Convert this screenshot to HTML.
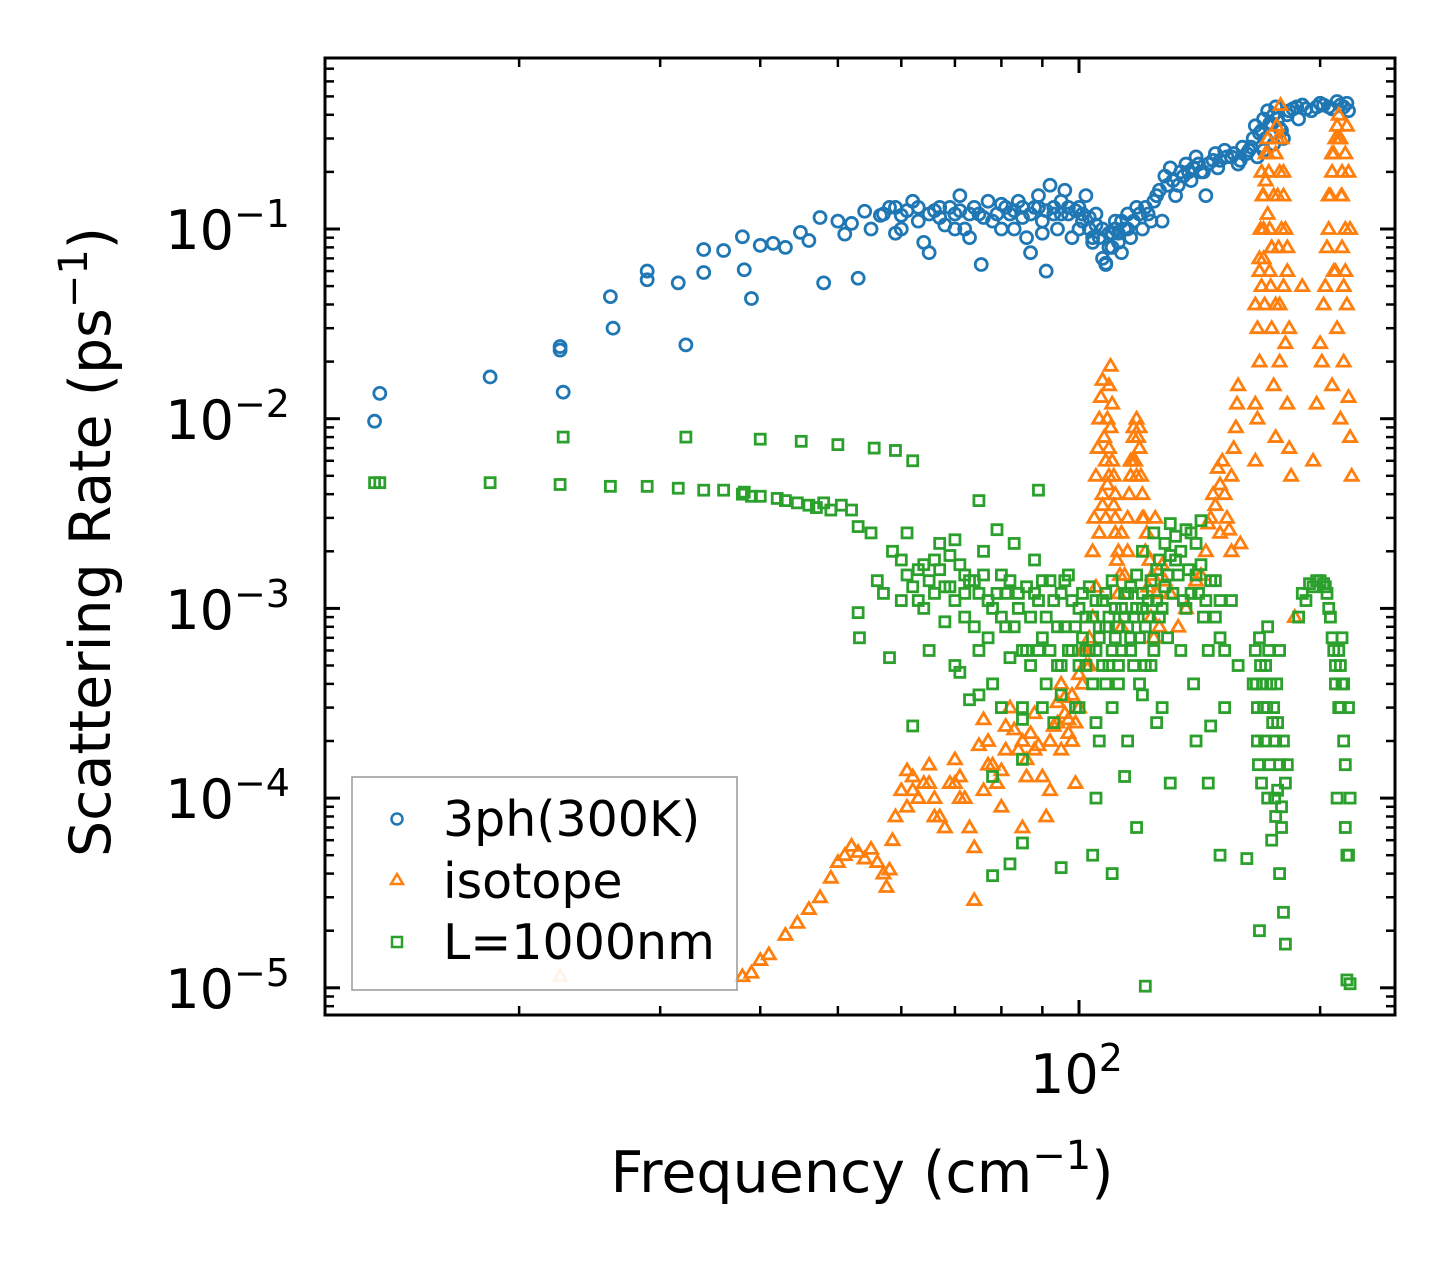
<!DOCTYPE html>
<html><head><meta charset="utf-8"><style>
body{margin:0;background:#fff;}
svg text{font-family:"DejaVu Sans","Liberation Sans",sans-serif;fill:#000;}
</style></head><body>
<svg id="chart" width="1455" height="1265" viewBox="0 0 1455 1265" xmlns="http://www.w3.org/2000/svg">
<rect width="1455" height="1265" fill="#fff"/>
<defs><clipPath id="pc"><rect x="325" y="58" width="1070" height="957"/></clipPath></defs>
<g id="marks" clip-path="url(#pc)"></g>
<g id="axes"></g>
<rect x="325" y="58" width="1070" height="957" fill="none" stroke="#000" stroke-width="3"/>
<g font-size="54" text-anchor="end">
<text x="290" y="249">10<tspan dy="-22" font-size="38">−1</tspan></text>
<text x="290" y="439">10<tspan dy="-22" font-size="38">−2</tspan></text>
<text x="290" y="629">10<tspan dy="-22" font-size="38">−3</tspan></text>
<text x="290" y="818">10<tspan dy="-22" font-size="38">−4</tspan></text>
<text x="290" y="1008">10<tspan dy="-22" font-size="38">−5</tspan></text>
</g>
<text x="1030" y="1093" font-size="54">10<tspan dy="-22" font-size="38">2</tspan></text>
<text x="862" y="1192" font-size="57" text-anchor="middle">Frequency (cm<tspan dy="-23" font-size="40">−1</tspan><tspan dy="23">)</tspan></text>
<text transform="translate(110,542) rotate(-90)" font-size="57" text-anchor="middle">Scattering Rate (ps<tspan dy="-23" font-size="40">−1</tspan><tspan dy="23">)</tspan></text>
<g>
<rect x="352" y="777" width="385" height="213" fill="#fff" fill-opacity="0.8" stroke="#999" stroke-width="1.5"/>
<circle cx="397" cy="819" r="5.5" fill="none" stroke="#1f77b4" stroke-width="2.5"/>
<text x="443" y="836" font-size="49">3ph(300K)</text>
<path d="M397,874 L403,884 L391,884 Z" fill="none" stroke="#ff7f0e" stroke-width="2.5"/>
<text x="443" y="898" font-size="49">isotope</text>
<rect x="392" y="937" width="10" height="10" fill="none" stroke="#2ca02c" stroke-width="2.5"/>
<text x="443" y="959" font-size="49">L=1000nm</text>
</g>
</svg>
<script>
const blueF=[13.2,13.4,18.4,22.5,22.5,22.7,26,26.2,28.9,28.9,31.6,32.3,34,34,36,38,38.2,39,40,41.5,43,44.9,46,47.5,48,50,51,52,53,54,55,56.5,58,59,60,62,63,64,65,66,67,68,70,71,72,73,74,75,75.5,77,78,80,82,83,84,85,86,87,88,89,90,91,92,93,94,95,96,97,98,100,101,102,103,104,105,106,107,108,109,110,111,112,113,114,115,116,118,120,122,124,126,127,128,130,132,134,136,138,140,142,144,145,148,150,152,155,158,160,163,165,166,167,168,170,172,174,176,178,180,182,185,188,190,195,200,205,210,214,217,170,175,108];
const blueR=[.0097,.0136,.0166,.024,.023,.0138,.044,.030,.060,.054,.052,.0245,.078,.059,.077,.091,.061,.043,.082,.084,.080,.096,.087,.115,.052,.110,.094,.107,.055,.124,.100,.118,.130,.095,.118,.14,.11,.085,.075,.125,.13,.105,.12,.15,.10,.09,.13,.12,.065,.14,.11,.135,.12,.10,.14,.115,.09,.075,.13,.15,.11,.06,.17,.12,.10,.14,.16,.12,.09,.13,.11,.15,.10,.085,.12,.09,.07,.065,.08,.095,.11,.085,.075,.10,.12,.09,.13,.10,.12,.14,.16,.11,.19,.21,.15,.20,.22,.18,.24,.20,.15,.22,.25,.23,.26,.24,.22,.27,.26,.30,.35,.24,.32,.38,.42,.36,.44,.34,.30,.40,.43,.38,.45,.42,.46,.44,.47,.44,.42,.26,.28,.066];
const blueF2=[57,59,61,63,65,67,69,71,73,76,79,81,83,85,87,89,91,93,95,97,99,101,103,105,107,109,111,113,115,117,119,121,123,125,129,131,133,135,137,139,141,143,147,149,153,156,159,162,164,169,171,173,175,177,179,183,187,192,198,202,207,212,216,60,70,80,90,100,104,110,112];
const blueR2=[.12,.13,.125,.13,.12,.115,.13,.125,.12,.115,.12,.13,.125,.13,.12,.13,.125,.13,.12,.13,.125,.12,.115,.105,.10,.095,.10,.11,.10,.11,.12,.13,.11,.15,.17,.18,.17,.19,.2,.21,.22,.2,.23,.21,.24,.25,.23,.25,.27,.33,.30,.36,.4,.38,.33,.42,.44,.43,.44,.45,.43,.45,.46,.10,.10,.10,.095,.10,.09,.08,.095];
const orangeF=[38,39,40,41,43,44.5,46,47.5,49,50,51,52,53,54,55,56,57,57.5,58,58.5,59,60,61,62,63,64,65,66,67,68,69,70,71,72,73,74,74,75,76,77,78,79,80,81,82,83,84,85,86,87,88,89,90,91,92,93,94,95,96,97,98,99,100,101,102,103,104,105,106,107,108,108.5,109,109.5,110,110.5,111,112,112,113,114,115,116,117,118,119,120,121,122,123,124,125,126,127,128,130,133,136,140,145,148,150,151,153,155,157,158,159,167,168,169,170,171,172,173,174,175,176,177,178,179,180,181,182,183,184,178.5,186,190,196,198,200,203,205,207,209,211,213,215,216,217,218,219,212,214,208,107,109,111,118,120,116,150,155,166,168,170,172,174,176,180,182,205,207,209,211,213,215];
const orangeR=[1.15e-5,1.2e-5,1.4e-5,1.5e-5,1.9e-5,2.2e-5,2.6e-5,3.0e-5,3.8e-5,4.6e-5,5.0e-5,5.6e-5,5.2e-5,4.8e-5,5.4e-5,4.6e-5,4.0e-5,3.4e-5,4.2e-5,6e-5,8e-5,1.1e-4,1.4e-4,1.3e-4,1.0e-4,1.2e-4,1.5e-4,1.0e-4,8e-5,7e-5,1.2e-4,1.6e-4,1.3e-4,1.0e-4,7e-5,2.9e-5,5.5e-5,1.9e-4,2.6e-4,2.0e-4,1.5e-4,1.2e-4,9e-5,2.4e-4,3.0e-4,2.3e-4,1.8e-4,7e-5,1.3e-4,2.2e-4,2.8e-4,1.9e-4,1.3e-4,8e-5,1.1e-4,2.4e-4,3.2e-4,4.0e-4,3.4e-4,2.6e-4,2e-4,1.2e-4,4.5e-4,6e-4,5e-4,7e-4,9e-4,1.3e-3,2.5e-3,4e-3,6e-3,1e-2,1.5e-2,1.9e-2,1.2e-2,5e-3,3e-3,2e-3,1.2e-3,8e-4,1.5e-3,3e-3,5e-3,8e-3,1e-2,7e-3,4e-3,2e-3,1.3e-3,9e-4,7e-4,1.2e-3,8e-4,1.7e-3,1.4e-3,1.2e-3,8e-4,1.0e-3,1.4e-3,2.8e-3,3.5e-3,4.5e-3,6e-3,3e-3,2e-3,9e-3,1.5e-2,2.2e-3,0.01,0.02,0.05,0.1,0.18,0.12,0.06,0.03,0.015,0.008,0.3,0.2,0.1,0.05,0.025,0.012,0.007,0.005,0.45,9e-4,0.05,0.006,0.012,0.025,0.05,0.1,0.2,0.3,0.4,0.2,0.1,0.04,0.013,0.008,0.005,0.01,0.02,0.06,3.5e-3,5e-3,4e-3,5e-3,3e-3,6e-3,2.5e-3,5e-3,0.04,0.07,0.15,0.25,0.08,0.04,0.15,0.08,0.15,0.25,0.06,0.3,0.15,0.06];
const orangeF2=[104,104.5,105,105.5,106,106.5,107,107.5,108,108.5,109,109.5,110,110.5,111,111.5,112.5,113,115,115.5,116.5,117,117.5,118.5,119.5,120.5,121.5,122.5,123.5,124.5,119,142,144,146,147,149,152,154,156,157.5,166,166,167,168,168.5,169,169.5,170,170.5,171,172,172.5,173,173.5,174,175,176,176.5,177,177.5,178,178,179,180,181,182,183,201,202,204,206,208,210,212,212.5,213,214,215,216,217,218,210,207,92,94,95,96,97,98,99,100,101,102,103,85,86,88,80,81,76,77,70,71,65,66,62,61];
const orangeR2=[2e-3,3e-3,5e-3,7e-3,1e-2,1.3e-2,1.6e-2,8e-3,3e-3,4.5e-3,7e-3,9e-3,6e-3,3.5e-3,2.5e-3,1.8e-3,1.5e-3,2.5e-3,2e-3,4e-3,6e-3,9e-3,6e-3,8e-3,5e-3,3e-3,2.5e-3,1.8e-3,1.5e-3,3e-3,9e-3,1.5e-3,2e-3,3e-3,4e-3,5.5e-3,4e-3,2.6e-3,7e-3,1.2e-2,0.006,0.012,0.03,0.06,0.1,0.2,0.15,0.07,0.04,0.25,0.3,0.2,0.1,0.05,0.08,0.15,0.25,0.35,0.15,0.08,0.04,0.02,0.3,0.2,0.1,0.06,0.03,0.02,0.04,0.08,0.15,0.25,0.35,0.3,0.15,0.08,0.05,0.25,0.35,0.2,0.1,0.03,0.015,2e-4,2.5e-4,1.8e-4,2.8e-4,2.2e-4,3.5e-4,2.5e-4,3e-4,4e-4,6e-4,5e-4,2e-4,1.6e-4,1.8e-4,1.4e-4,1.8e-4,1.1e-4,1.5e-4,1.2e-4,1.0e-4,1.2e-4,8e-5,1.1e-4,9e-5];
const greenF=[13.2,13.4,18.4,22.5,22.7,26,28.9,31.6,32.3,34,36,38,38.2,39,40,40,42,43,44.5,45,46,47,48,49,50,50.5,52,53,53,53.2,55,55.5,56,57,58,58.5,59,60,61,62,62,63,64,65,66,67,68,69,70,71,72,72,73,74,75,75,76,77,78,78,79,80,81,82,83,84,85,85,86,87,88,89,89,90,91,92,93,94,95,96,97,98,99,100,101,102,103,104,105,106,107,108,109,110,111,112,113,114,115,116,117,118,119,120,121,122,123,124,125,126,127,128,129,130,132,134,136,138,139,140,142,143,145,146,148,150,152,155,158,162,165,167,168,168,169,170,171,172,173,174,175,176,177,178,178,179,180,181,182,188,192,196,200,203,205,207,209,210,211,212,213,214,215,216,216,218,218,121,110,104,95,85,78,82,105,118,130,140,145,150,102,106,112,116,120,124,108,114];
const greenR=[4.6e-3,4.6e-3,4.6e-3,4.5e-3,8e-3,4.4e-3,4.4e-3,4.3e-3,8e-3,4.2e-3,4.2e-3,4.0e-3,4.1e-3,3.9e-3,3.9e-3,7.8e-3,3.8e-3,3.7e-3,3.6e-3,7.6e-3,3.5e-3,3.4e-3,3.6e-3,3.3e-3,7.3e-3,3.5e-3,3.3e-3,2.7e-3,9.5e-4,7e-4,2.5e-3,7e-3,1.4e-3,1.2e-3,5.5e-4,2e-3,6.8e-3,1.1e-3,2.5e-3,6e-3,2.4e-4,1.6e-3,1e-3,6e-4,1.8e-3,2.2e-3,8.5e-4,1.3e-3,2.3e-3,4.6e-4,1.5e-3,9e-4,3.3e-4,1.4e-3,6e-4,3.7e-3,2.0e-3,1.1e-3,4e-4,1.3e-4,2.6e-3,1.5e-3,8e-4,5.5e-4,2.2e-3,1.2e-3,3e-4,1.6e-4,6e-4,9e-4,1.8e-3,4.2e-3,1.1e-3,7e-4,4e-4,1.4e-3,2.5e-4,5e-4,1.2e-3,8e-4,1.5e-3,6e-4,3e-4,1e-3,7e-4,5e-4,1.3e-3,9e-4,6e-4,2e-4,1.1e-3,8e-4,5e-4,1.4e-3,7e-4,4e-4,1.0e-3,1.3e-4,1.2e-3,6e-4,9e-4,1.5e-3,4e-4,2e-3,8e-4,1.1e-3,5e-4,2.5e-3,1.6e-3,9e-4,3e-4,1.3e-3,7e-4,2.8e-3,1.8e-3,6e-4,1.0e-3,2.5e-3,4e-4,1.5e-3,2.9e-3,9e-4,6e-4,2.4e-4,1.4e-3,7e-4,3e-4,1.1e-3,5e-4,4.8e-5,4e-4,2e-4,7e-4,2e-5,1.2e-4,3e-4,5e-4,8e-4,1.5e-4,6e-5,3e-4,2e-4,1.1e-4,4e-5,6e-4,9e-5,2.5e-5,1.7e-5,1.5e-4,9e-4,1.1e-3,1.3e-3,1.4e-3,1.3e-3,1e-3,7e-4,4e-4,1e-4,3e-4,5e-4,7e-4,4e-4,1.5e-4,5e-5,1.1e-5,1.05e-5,1e-4,1.02e-5,4e-5,5e-5,4.3e-5,5.8e-5,3.9e-5,4.5e-5,1.0e-4,7e-5,1.2e-4,2e-4,1.2e-4,5e-5,6e-4,8e-4,5e-4,7e-4,1e-3,6e-4,4e-4,9e-4];
const greenF2=[60,61,62,63,64,65,66,67,68,69,70,71,72,73,74,75,76,77,78,79,80,81,82,83,84,85,86,87,88,89,90,91,92,93,94,95,96,97,98,99,100,101,102,103,104,105,106,107,108,109,110,111,112,113,114,115,116,117,118,119,120,121,122,123,124,125,126,127,128,129,130,131,132,133,134,135,136,137,138,140,141,142,144,146,148,150,152,100,105,110,115,120,125,95,90,85,80,75,70,166,166.5,167,167.5,168.5,169.5,170.5,171.5,172.5,173.5,174.5,175.5,176.5,177,178,179,180,181,176,172,190,194,198,202,204,206,208,209,211,212,213,214,215,217,217];
const greenR2=[1.8e-3,1.5e-3,1.3e-3,1.1e-3,1.7e-3,1.4e-3,1.2e-3,1.6e-3,1.3e-3,1.9e-3,1.1e-3,1.7e-3,1.2e-3,1.4e-3,8e-4,1.2e-3,1.5e-3,7e-4,1.0e-3,1.2e-3,9e-4,1.2e-3,1.4e-3,8e-4,1.0e-3,6e-4,1.3e-3,5e-4,1.2e-3,6e-4,1.4e-3,9e-4,6e-4,1.1e-3,8e-4,5e-4,1.4e-3,6e-4,1.1e-3,8e-4,5e-4,1.2e-3,9e-4,6e-4,4e-4,1.1e-3,7e-4,5e-4,1.2e-3,9e-4,6e-4,1.0e-3,8e-4,6e-4,1.2e-3,8e-4,1.3e-3,5e-4,1.0e-3,7e-4,1.2e-3,5e-4,9e-4,1.4e-3,7e-4,1.1e-3,1.8e-3,1.0e-3,2.2e-3,1.5e-3,1.9e-3,1.2e-3,2.4e-3,1.5e-3,2.0e-3,1.1e-3,2.6e-3,1.6e-3,1.2e-3,2.2e-3,1.2e-3,1.7e-3,1.1e-3,1.4e-3,9e-4,1.1e-3,6e-4,3e-4,2.5e-4,3e-4,2e-4,3.5e-4,2.5e-4,3.5e-4,3e-4,2.6e-4,3e-4,3.5e-4,5e-4,6e-4,4e-4,3e-4,1.5e-4,5e-4,4e-4,2e-4,3e-4,6e-4,4e-4,2.5e-4,1e-4,4e-4,2.5e-4,1.5e-4,7e-5,2e-4,1.2e-4,8e-5,1e-4,1.2e-3,1.35e-3,1.4e-3,1.35e-3,1.2e-3,9e-4,6e-4,5e-4,6e-4,3e-4,4e-4,2e-4,7e-5,3e-4,5e-5];
const xMajor=[100];
const xMinor=[20,30,40,50,60,70,80,90,200];

const X=f=>1079+801*Math.log10(f/100);
const Y=r=>229-189.7*(Math.log10(r)+1);
const NS='http://www.w3.org/2000/svg';
const marks=document.getElementById('marks');
const axes=document.getElementById('axes');
function mk(tag,parent){const e=document.createElementNS(NS,tag);parent.appendChild(e);return e;}

function tick(x1,y1,x2,y2,w){const l=mk('line',axes);l.setAttribute('x1',x1);l.setAttribute('y1',y1);l.setAttribute('x2',x2);l.setAttribute('y2',y2);l.setAttribute('stroke','#000');l.setAttribute('stroke-width',w);

}
xMajor.forEach(v=>{const x=X(v);tick(x,1015,x,1000,3);tick(x,58,x,73,3);});
xMinor.forEach(v=>{const x=X(v);tick(x,1015,x,1006,2.5);tick(x,58,x,67,2.5);});
for(let e=-6;e<=0;e++){for(let m=1;m<10;m++){const v=m*Math.pow(10,e);const y=Y(v);if(y<60||y>1013)continue;
if(m===1){tick(325,y,340,y,3);tick(1395,y,1380,y,3);}else{tick(325,y,334,y,2.5);tick(1395,y,1386,y,2.5);}}}

function circle(f,r){const c=mk('circle',marks);c.setAttribute('cx',X(f));c.setAttribute('cy',Y(r));c.setAttribute('r',6);c.setAttribute('fill','none');c.setAttribute('stroke','#1f77b4');c.setAttribute('stroke-width',2.8);

}
function tri(f,r,op){const x=X(f),y=Y(r);const p=mk('path',marks);p.setAttribute('d',`M${x},${y-6.5}L${x+6.5},${y+4.5}L${x-6.5},${y+4.5}Z`);p.setAttribute('fill','none');p.setAttribute('stroke','#ff7f0e');p.setAttribute('stroke-width',2.8);if(op)p.setAttribute('opacity',op);

}
function sq(f,r){const x=X(f),y=Y(r);const s=mk('rect',marks);s.setAttribute('x',x-5);s.setAttribute('y',y-5);s.setAttribute('width',10);s.setAttribute('height',10);s.setAttribute('fill','none');s.setAttribute('stroke','#2ca02c');s.setAttribute('stroke-width',2.8);

}
blueF.forEach((f,i)=>circle(f,blueR[i]));
blueF2.forEach((f,i)=>circle(f,blueR2[i]));
tri(22.5,1.15e-5,0.5);
orangeF.forEach((f,i)=>tri(f,orangeR[i]));
orangeF2.forEach((f,i)=>tri(f,orangeR2[i]));
greenF.forEach((f,i)=>sq(f,greenR[i]));
greenF2.forEach((f,i)=>sq(f,greenR2[i]));
</script>
</body></html>
